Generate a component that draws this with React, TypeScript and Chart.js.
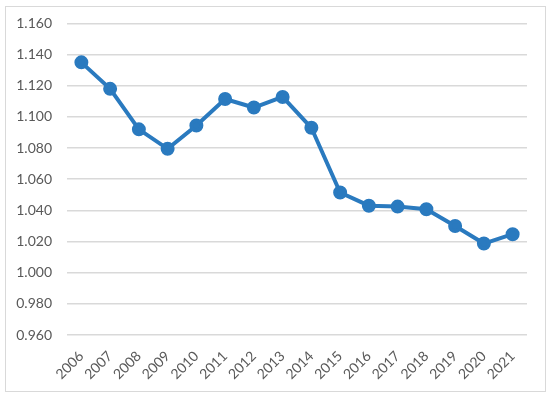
import React, { useEffect, useRef } from "react";
import { Chart, registerables } from "chart.js";

Chart.register(...registerables);

const years = ["2006","2007","2008","2009","2010","2011","2012","2013","2014","2015","2016","2017","2018","2019","2020","2021"];
const values = [1.135, 1.118, 1.092, 1.0795, 1.0945, 1.1115, 1.106, 1.1128, 1.093, 1.0515, 1.043, 1.0424, 1.0407, 1.030, 1.0187, 1.0247];
const yMin = 0.96;
const yMax = 1.16;
const yStep = 0.02;

export default function App() {
  const ref = useRef<HTMLCanvasElement | null>(null);
  useEffect(() => {
    if (!ref.current) return;
    const chart = new Chart(ref.current, {
      type: "line",
      data: {
        labels: years,
        datasets: [
          {
            data: values,
            borderColor: "#2A7ABF",
            backgroundColor: "#2A7ABF",
            borderWidth: 4,
            pointRadius: 5,
            pointHoverRadius: 5,
            pointBackgroundColor: "#2A7ABF",
            pointBorderColor: "#2A7ABF",
            tension: 0,
          },
        ],
      },
      options: {
        animation: false,
        responsive: false,
        maintainAspectRatio: false,
        layout: { padding: { top: 19, right: 23, left: 0, bottom: 0 } },
        plugins: { legend: { display: false }, tooltip: { enabled: false } },
        scales: {
          x: {
            offset: true,
            grid: { display: false },
            border: { display: false },
            ticks: {
              color: "#595959",
              font: { family: "Lato", size: 14 },
              minRotation: 45,
              maxRotation: 45,
              padding: 5,
            },
            afterFit: (s: any) => { s.height = 60; },
          },
          y: {
            min: yMin,
            max: yMax,
            grid: { color: "#d9d9d9", lineWidth: 1.5, drawTicks: false },
            border: { display: false },
            ticks: {
              stepSize: yStep,
              color: "#595959",
              font: { family: "Lato", size: 14 },
              padding: 15,
              callback: (v: any) => Number(v).toFixed(3),
            },
            afterFit: (s: any) => { s.width = 67; },
          },
        },
      },
    });
    return () => chart.destroy();
  }, []);
  return (
    <div style={{ position: "fixed", left: 0, top: 0, width: 550, height: 395, background: "#fff" }}>
      <div style={{ position: "absolute", left: 5, top: 6, width: 539, height: 384, border: "1px solid #d9d9d9" }} />
      <canvas ref={ref} width={550} height={395} style={{ position: "absolute", left: 0, top: 0 }} />
    </div>
  );
}
